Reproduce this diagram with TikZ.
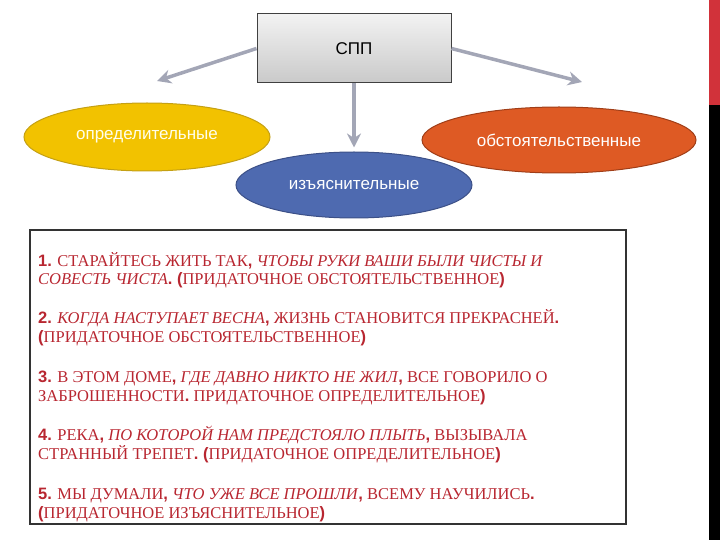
\documentclass[tikz,border=0pt]{standalone}
\usepackage{fontspec}
\setmainfont{Liberation Serif}
\newfontfamily\arialf{Liberation Sans}
\usetikzlibrary{shapes.geometric,arrows.meta}

\definecolor{arrowgray}{RGB}{163,166,182}
\definecolor{textred}{RGB}{184,38,48}
\definecolor{yellowfill}{RGB}{242,194,0}
\definecolor{yellowline}{RGB}{196,160,20}
\definecolor{bluefill}{RGB}{78,106,176}
\definecolor{blueline}{RGB}{60,80,135}
\definecolor{orangefill}{RGB}{222,90,36}
\definecolor{orangeline}{RGB}{160,62,24}
\definecolor{barred}{RGB}{209,50,58}

\newcommand{\nb}[1]{{\arialf\bfseries #1}}

\tikzset{
  kind/.style={ellipse, inner sep=0pt, line width=1pt, font=\arialf\fontsize{17}{17}\selectfont, text=white},
  link/.style={draw=arrowgray, line width=3.5pt, -{Stealth[length=14pt,width=14pt]}},
  example/.style={anchor=base west, inner sep=0pt, text=textred, font=\fontsize{16.5}{17}\selectfont}
}

\begin{document}
\begin{tikzpicture}[x=1pt,y=-1pt]
	\useasboundingbox (0,0) rectangle (720,540);

	% side bar
	\fill[barred] (709,0) rectangle (720,105);
	\fill[black] (709,105) rectangle (720,540);

	% top scheme
	\node[draw=black!75, line width=1pt, top color=gray!10, bottom color=gray!42,
		minimum width=194pt, minimum height=69pt, font=\arialf\fontsize{17}{17}\selectfont] (spp) at (354,48.5) {СПП};
	\node[kind, fill=yellowfill, draw=yellowline, text=yellow!8, minimum width=246pt, minimum height=68pt] (opr) at (147,137) {определительные};
	\node[kind, fill=bluefill, draw=blueline, minimum width=236pt, minimum height=66pt] (izj) at (354,185) {изъяснительные};
	\node[kind, fill=orangefill, draw=orangeline, minimum width=274pt, minimum height=66pt] (obs) at (559,140) {обстоятельственные};

	\coordinate (lefttip) at (157,81);
	\coordinate (righttip) at (582,82);

	\draw[link] (spp.west) -- (lefttip);
	\draw[link] (spp.east) -- (righttip);
	\draw[link, shorten >=4pt] (spp.south) -- (izj.north);

	% examples
	\draw[black!80, line width=1.5pt] (30,230) rectangle (626,524);

	\node[example] (e1a) at (38,266) {\nb{1.} СТАРАЙТЕСЬ ЖИТЬ ТАК\nb{,} \textit{ЧТОБЫ РУКИ ВАШИ БЫЛИ ЧИСТЫ И}};
	\node[example] (e1b) at (38,284.5) {\textit{СОВЕСТЬ ЧИСТА}\nb{. (}ПРИДАТОЧНОЕ ОБСТОЯТЕЛЬСТВЕННОЕ\nb{)}};

	\node[example] (e2a) at (38,323.5) {\nb{2.} \textit{КОГДА НАСТУПАЕТ ВЕСНА}\nb{,} ЖИЗНЬ СТАНОВИТСЯ ПРЕКРАСНЕЙ\nb{.}};
	\node[example] (e2b) at (38,342) {\nb{(}ПРИДАТОЧНОЕ ОБСТОЯТЕЛЬСТВЕННОЕ\nb{)}};

	\node[example] (e3a) at (38,382) {\nb{3.} В ЭТОМ ДОМЕ\nb{,} \textit{ГДЕ ДАВНО НИКТО НЕ ЖИЛ}\nb{,} ВСЕ ГОВОРИЛО О};
	\node[example] (e3b) at (38,401.5) {ЗАБРОШЕННОСТИ\nb{.} ПРИДАТОЧНОЕ ОПРЕДЕЛИТЕЛЬНОЕ\nb{)}};

	\node[example] (e4a) at (38,440.5) {\nb{4.} РЕКА\nb{,} \textit{ПО КОТОРОЙ НАМ ПРЕДСТОЯЛО ПЛЫТЬ}\nb{,} ВЫЗЫВАЛА};
	\node[example] (e4b) at (38,459.5) {СТРАННЫЙ ТРЕПЕТ\nb{. (}ПРИДАТОЧНОЕ ОПРЕДЕЛИТЕЛЬНОЕ\nb{)}};

	\node[example] (e5a) at (38,499.5) {\nb{5.} МЫ ДУМАЛИ\nb{,} \textit{ЧТО УЖЕ ВСЕ ПРОШЛИ}\nb{,} ВСЕМУ НАУЧИЛИСЬ\nb{.}};
	\node[example] (e5b) at (38,518) {\nb{(}ПРИДАТОЧНОЕ ИЗЪЯСНИТЕЛЬНОЕ\nb{)}};
\end{tikzpicture}
\end{document}
